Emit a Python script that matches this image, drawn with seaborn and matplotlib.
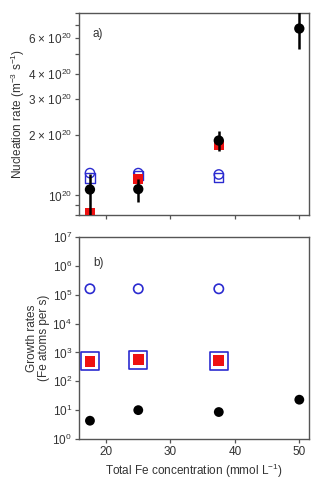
import numpy as np
import pandas as pd
import matplotlib
matplotlib.use("Agg")
import matplotlib.pyplot as plt
import matplotlib.ticker as mticker
import seaborn as sns

# ---- data ----
conc = [17.5, 25, 37.5, 50]
nuc_black = [1.07e20, 1.075e20, 1.87e20, 6.7e20]
nuc_black_lo = [0.80e20, 0.93e20, 1.66e20, 5.28e20]
nuc_black_hi = [1.28e20, 1.20e20, 2.08e20, 8.6e20]
conc3 = [17.5, 25, 37.5]
nuc_red = [0.82e20, 1.21e20, 1.77e20]
nuc_blue_circ = [1.29e20, 1.29e20, 1.27e20]
nuc_blue_sq = [1.22e20, 1.26e20, 1.23e20]

growth_blue_circ = [1.6e5, 1.6e5, 1.6e5]
growth_blue_sq = [490, 560, 515]
growth_red = [490, 560, 515]
growth_black = [4.3, 10, 8.6, 23]

top_ticks = [1e20, 2e20, 3e20, 4e20, 6e20]
top_ticklabels = ["10$^{20}$", "2 × 10$^{20}$", "3 × 10$^{20}$", "4 × 10$^{20}$", "6 × 10$^{20}$"]
top_minor = [8e19, 9e19, 5e20, 7e20, 8e20]
x_ticks = [20, 30, 40, 50]

sns.set_theme(style="ticks")
plt.rcParams['font.family'] = ['Liberation Sans', 'DejaVu Sans']
plt.rcParams['mathtext.fontset'] = 'custom'
plt.rcParams['mathtext.rm'] = 'Liberation Sans'
plt.rcParams['mathtext.default'] = 'regular'

TXT = '#333333'
SP = '#555555'
BLUE = '#2b2bd0'
RED = '#ee1111'
FS = 8.5

fig = plt.figure(figsize=(3.14, 4.79), dpi=100)
ax1 = fig.add_axes([0.2516, 0.5511, 0.7324, 0.4218])
ax2 = fig.add_axes([0.2516, 0.0835, 0.7324, 0.4218])

# ---- top panel ----
sns.scatterplot(x=conc3, y=nuc_blue_sq, ax=ax1, marker='s', s=45, facecolor='none',
                edgecolor=BLUE, linewidth=1.0, zorder=3)
sns.scatterplot(x=conc3, y=nuc_blue_circ, ax=ax1, marker='o', s=45, facecolor='none',
                edgecolor=BLUE, linewidth=1.0, zorder=3)
sns.scatterplot(x=conc3, y=nuc_red, ax=ax1, marker='s', s=50, color=RED,
                edgecolor='none', zorder=4)
lo = np.array(nuc_black) - np.array(nuc_black_lo)
hi = np.array(nuc_black_hi) - np.array(nuc_black)
ax1.errorbar(conc, nuc_black, yerr=[lo, hi], fmt='none', ecolor='black', elinewidth=1.8,
             capsize=0, zorder=5)
sns.scatterplot(x=conc, y=nuc_black, ax=ax1, marker='o', s=55, color='black',
                edgecolor='none', zorder=6)

ax1.set_yscale('log')
ax1.set_ylim(8e19, 8e20)
ax1.set_xlim(15.8, 51.5)
ax1.yaxis.set_major_locator(mticker.FixedLocator(top_ticks))
ax1.yaxis.set_major_formatter(mticker.FixedFormatter(top_ticklabels))
ax1.yaxis.set_minor_locator(mticker.FixedLocator(top_minor))
ax1.yaxis.set_minor_formatter(mticker.NullFormatter())
ax1.set_xticks(x_ticks)
ax1.set_xticklabels([])
ax1.set_ylabel("Nucleation rate (m$^{-3}$ s$^{-1}$)", fontsize=FS, color=TXT, labelpad=1)
ax1.text(0.06, 0.896, "a)", transform=ax1.transAxes, fontsize=FS, color=TXT, va='center')

# ---- bottom panel ----
sns.scatterplot(x=conc3, y=growth_blue_circ, ax=ax2, marker='o', s=45, facecolor='none',
                edgecolor=BLUE, linewidth=1.2, zorder=3)
sns.scatterplot(x=conc3, y=growth_blue_sq, ax=ax2, marker='s', s=160, facecolor='white',
                edgecolor=BLUE, linewidth=1.2, zorder=3)
sns.scatterplot(x=conc3, y=growth_red, ax=ax2, marker='s', s=60, color=RED,
                edgecolor='none', zorder=4)
sns.scatterplot(x=conc, y=growth_black, ax=ax2, marker='o', s=50, color='black',
                edgecolor='none', zorder=6)
ax2.set_yscale('log')
ax2.set_ylim(1, 1e7)
ax2.set_xlim(15.8, 51.5)
ax2.yaxis.set_major_locator(mticker.LogLocator(base=10, numticks=10))
ax2.yaxis.set_minor_locator(mticker.NullLocator())
ax2.yaxis.set_major_formatter(mticker.FuncFormatter(lambda v, p: "10$^{%d}$" % round(np.log10(v))))
ax2.set_xticks(x_ticks)
ax2.set_xlabel("Total Fe concentration (mmol L$^{-1}$)", fontsize=FS, color=TXT, labelpad=3)
ax2.set_ylabel("Growth rates\n(Fe atoms per s)", fontsize=FS, color=TXT, labelpad=2,
               linespacing=1.0)
ax2.text(0.06, 0.871, "b)", transform=ax2.transAxes, fontsize=FS, color=TXT, va='center')

for ax in (ax1, ax2):
    for sp in ax.spines.values():
        sp.set_visible(True)
        sp.set_color(SP)
        sp.set_linewidth(1.0)
    ax.tick_params(axis='both', which='both', direction='out', length=3, width=0.9,
                   color=SP, labelsize=FS, labelcolor=TXT, pad=2)

fig.savefig("out.png", dpi=100)
